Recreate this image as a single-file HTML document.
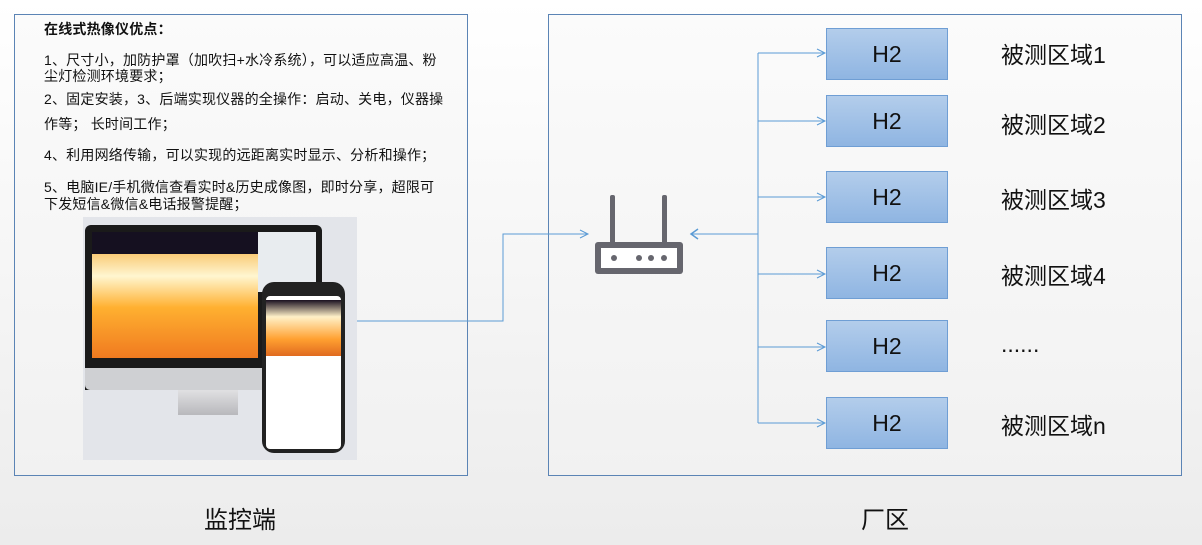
<!DOCTYPE html>
<html><head><meta charset="utf-8"><style>
body{margin:0;width:1202px;height:545px;overflow:hidden;background:linear-gradient(#ffffff,#ececec);font-family:"Liberation Sans","Noto Sans CJK SC",sans-serif;position:relative}
.a{position:absolute}
.box{position:absolute;border:1.5px solid #5b84b5;background:linear-gradient(#fbfbfb,#f1f1f1)}
.t{position:absolute;left:44px;font-size:14px;color:#111;line-height:20px;white-space:nowrap;letter-spacing:0.2px}
.h2{position:absolute;left:826px;width:120px;height:50px;border:1px solid #6f9ed4;background:linear-gradient(#b3cdeb,#8fb5e2);font-size:23px;text-align:center;line-height:50px;color:#111}
.lab{position:absolute;left:1001px;font-size:23px;color:#111;white-space:nowrap}
</style></head><body>
<div class="box" style="left:14px;top:14px;width:452px;height:460px"></div>
<div class="box" style="left:548px;top:14px;width:632px;height:460px"></div>
<div class="t" style="top:19px;font-weight:bold">在线式热像仪优点：</div>
<div class="t" style="top:50px">1、尺寸小，加防护罩（加吹扫+水冷系统），可以适应高温、粉</div>
<div class="t" style="top:66px">尘灯检测环境要求；</div>
<div class="t" style="top:89px">2、固定安装，3、后端实现仪器的全操作：启动、关电，仪器操</div>
<div class="t" style="top:114px">作等； 长时间工作；</div>
<div class="t" style="top:145px">4、利用网络传输，可以实现的远距离实时显示、分析和操作；</div>
<div class="t" style="top:177px">5、电脑IE/手机微信查看实时&amp;历史成像图，即时分享，超限可</div>
<div class="t" style="top:194px">下发短信&amp;微信&amp;电话报警提醒；</div>
<!-- picture -->
<div class="a" style="left:83px;top:217px;width:274px;height:243px;background:#e3e5ea"></div>
<div class="a" style="left:85px;top:225px;width:237px;height:165px;background:#1a1a1a;border-radius:6px 6px 0 0"></div>
<div class="a" style="left:85px;top:368px;width:237px;height:22px;background:#cfd0d3;border-radius:0 0 5px 5px"></div>
<div class="a" style="left:92px;top:232px;width:166px;height:126px;background:linear-gradient(#f3a020 0%,#fff6d0 35%,#ffb030 60%,#f07a20 100%)"></div>
<div class="a" style="left:92px;top:232px;width:166px;height:22px;background:#151020"></div>
<div class="a" style="left:258px;top:232px;width:58px;height:60px;background:#e8ecef"></div>
<div class="a" style="left:178px;top:390px;width:60px;height:25px;background:linear-gradient(#e0e0e2,#b8b8bc)"></div>
<div class="a" style="left:262px;top:282px;width:83px;height:171px;background:#222;border-radius:12px"></div>
<div class="a" style="left:266px;top:296px;width:75px;height:153px;background:#fff;border-radius:4px"></div>
<div class="a" style="left:266px;top:300px;width:75px;height:56px;background:linear-gradient(#1a1020 0%,#fff1c8 30%,#ffa030 70%,#e06a20 100%)"></div>
<!-- connectors -->
<svg class="a" style="left:0;top:0" width="1202" height="545">
<g stroke="#5b9bd5" stroke-width="1" fill="none">
<polyline points="357,321 503,321 503,234 588,234"/>
<polyline points="580,230 588,234 580,238"/>
<line x1="758" y1="53" x2="758" y2="423"/>
<line x1="691" y1="234" x2="758" y2="234"/>
<polyline points="698,229 691,234 698,239" stroke-width="1.5"/>
<g>
<line x1="758" y1="53" x2="825" y2="53"/><polyline points="817,49 825,53 817,57"/>
<line x1="758" y1="121" x2="825" y2="121"/><polyline points="817,117 825,121 817,125"/>
<line x1="758" y1="197" x2="825" y2="197"/><polyline points="817,193 825,197 817,201"/>
<line x1="758" y1="274" x2="825" y2="274"/><polyline points="817,270 825,274 817,278"/>
<line x1="758" y1="347" x2="825" y2="347"/><polyline points="817,343 825,347 817,351"/>
<line x1="758" y1="423" x2="825" y2="423"/><polyline points="817,419 825,423 817,427"/>
</g></g>
<g fill="#66666e" stroke="none">
<rect x="610" y="195" width="5" height="50" rx="2"/>
<rect x="662" y="195" width="5" height="50" rx="2"/>
<rect x="595" y="242" width="88" height="32" rx="3"/>
<rect x="601" y="248" width="76" height="20" fill="#fff"/>
<circle cx="614" cy="258" r="3"/><circle cx="639" cy="258" r="3"/><circle cx="651" cy="258" r="3"/><circle cx="664" cy="258" r="3"/>
</g>
</svg>
<div class="h2" style="top:28px">H2</div>
<div class="h2" style="top:95px">H2</div>
<div class="h2" style="top:171px">H2</div>
<div class="h2" style="top:247px">H2</div>
<div class="h2" style="top:320px">H2</div>
<div class="h2" style="top:397px">H2</div>
<div class="lab" style="top:36px">被测区域1</div>
<div class="lab" style="top:106px">被测区域2</div>
<div class="lab" style="top:181px">被测区域3</div>
<div class="lab" style="top:257px">被测区域4</div>
<div class="lab" style="top:331px">......</div>
<div class="lab" style="top:407px">被测区域n</div>
<div class="a" style="left:204px;top:500px;font-size:24px;color:#111">监控端</div>
<div class="a" style="left:861px;top:500px;font-size:24px;color:#111">厂区</div>
</body></html>
